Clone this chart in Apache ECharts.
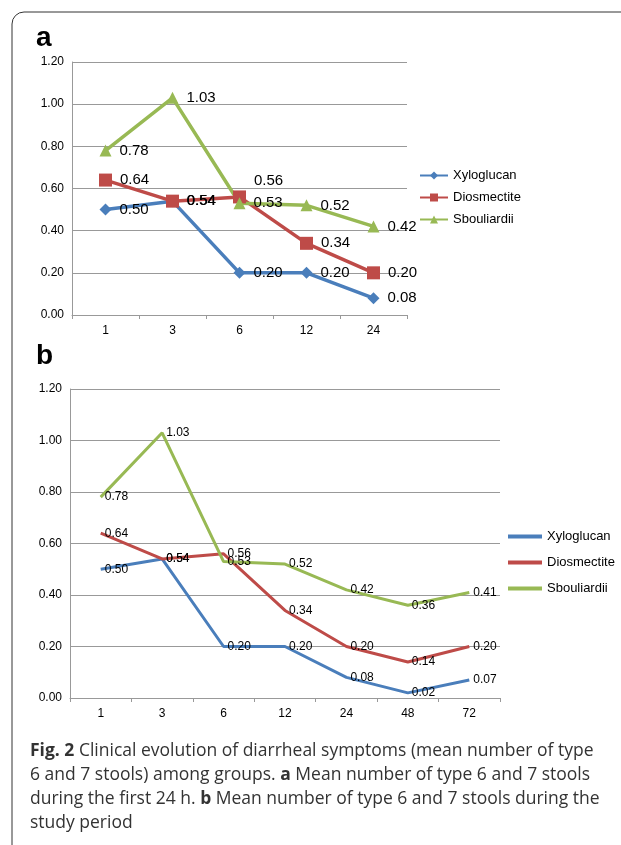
<!DOCTYPE html>
<html><head><meta charset="utf-8">
<script src="https://cdn.jsdelivr.net/npm/echarts@6/dist/echarts.min.js"></script>
<style>html,body{margin:0;background:#fff}#c{width:621px;height:845px}</style>
</head><body><div id="c"></div>
<script>
// categories and values
const catsA = ['1', '3', '6', '12', '24']
const catsB = ['1', '3', '6', '12', '24', '48', '72']
const names = ['Xyloglucan', 'Diosmectite', 'Sbouliardii']
const xyloA = [0.50, 0.54, 0.20, 0.20, 0.08]
const diosA = [0.64, 0.54, 0.56, 0.34, 0.20]
const sboA = [0.78, 1.03, 0.53, 0.52, 0.42]
const xyloB = [0.50, 0.54, 0.20, 0.20, 0.08, 0.02, 0.07]
const diosB = [0.64, 0.54, 0.56, 0.34, 0.20, 0.14, 0.20]
const sboB = [0.78, 1.03, 0.53, 0.52, 0.42, 0.36, 0.41]

const colors = ['#4a7ebb', '#be4b48', '#98b954']
const symbols = ['diamond', 'rect', 'triangle']
const font = 'Liberation Sans'

const chart = echarts.init(document.getElementById('c'))

function yAxis(i) {
  return {
    gridIndex: i, min: 0, max: 1.2, interval: 0.2,
    axisLabel: { formatter: v => v.toFixed(2), color: '#000', fontSize: 12, fontFamily: font },
    splitLine: { lineStyle: { color: '#999' } },
    axisLine: { show: true, lineStyle: { color: '#999' } }, axisTick: { show: false }
  }
}
function xAxis(i, cats) {
  return {
    gridIndex: i, type: 'category', data: cats,
    axisLabel: { color: '#000', fontSize: 12, fontFamily: font, margin: 10 },
    axisLine: { lineStyle: { color: '#999' } },
    axisTick: { show: true, lineStyle: { color: '#999' }, length: 4 }
  }
}

const series = []
;[xyloA, diosA, sboA].forEach((d, k) => series.push({
  name: names[k], type: 'line', xAxisIndex: 0, yAxisIndex: 0, data: d,
  color: colors[k], symbol: symbols[k], symbolSize: k === 1 ? 13 : 12,
  lineStyle: { width: 3.5 },
  label: { show: true, position: 'right', distance: 8, formatter: p => p.value.toFixed(2),
    color: '#000', fontSize: 15, fontFamily: font },
  // the Diosmectite label at 6 h sits above its point
  labelLayout: p => (k === 1 && p.dataIndex === 2) ? { dy: -16, hideOverlap: false } : { hideOverlap: false }
}))
;[xyloB, diosB, sboB].forEach((d, k) => series.push({
  name: names[k], type: 'line', xAxisIndex: 1, yAxisIndex: 1, data: d,
  color: colors[k], symbol: 'circle', symbolSize: 0, lineStyle: { width: 3 },
  label: { show: true, position: 'right', distance: 4, offset: [0, 4], formatter: p => p.value.toFixed(2),
    color: '#000', fontSize: 12, fontFamily: font },
  labelLayout: { hideOverlap: false }
}))

chart.setOption({
  animation: false,
  grid: [
    { left: 72, width: 335, top: 62, height: 253 },
    { left: 70, width: 430, top: 389, height: 309 }
  ],
  xAxis: [xAxis(0, catsA), xAxis(1, catsB)],
  yAxis: [yAxis(0), yAxis(1)],
  legend: [
    { orient: 'vertical', left: 414, top: 164, itemGap: 9, itemWidth: 28, itemHeight: 10,
      data: names, textStyle: { fontSize: 13, fontFamily: font, color: '#000' } },
    { orient: 'vertical', left: 503, top: 525, itemGap: 13, itemWidth: 34, itemHeight: 4, icon: 'rect',
      data: names, textStyle: { fontSize: 13, fontFamily: font, color: '#000' } }
  ],
  series: series,
  graphic: [
    { type: 'rect', shape: { x: 12, y: 12, width: 640, height: 900, r: 12 },
      style: { fill: 'none', stroke: '#333', lineWidth: 1 } },
    { type: 'text', left: 36, top: 24, style: { text: 'a', font: 'bold 28px ' + font, fill: '#000' } },
    { type: 'text', left: 36, top: 342, style: { text: 'b', font: 'bold 28px ' + font, fill: '#000' } },
    { type: 'text', left: 30, top: 739, style: {
      text: '{b|Fig. 2} Clinical evolution of diarrheal symptoms (mean number of type\n6 and 7 stools) among groups. {b|a} Mean number of type 6 and 7 stools\nduring the first 24 h. {b|b} Mean number of type 6 and 7 stools during the\nstudy period',
      font: '17.5px "Open Sans"', fill: '#333', lineHeight: 24,
      rich: { b: { fontWeight: 'bold', fontSize: 17.5, fontFamily: 'Open Sans', fill: '#333' } }
    } }
  ]
})
</script></body></html>
